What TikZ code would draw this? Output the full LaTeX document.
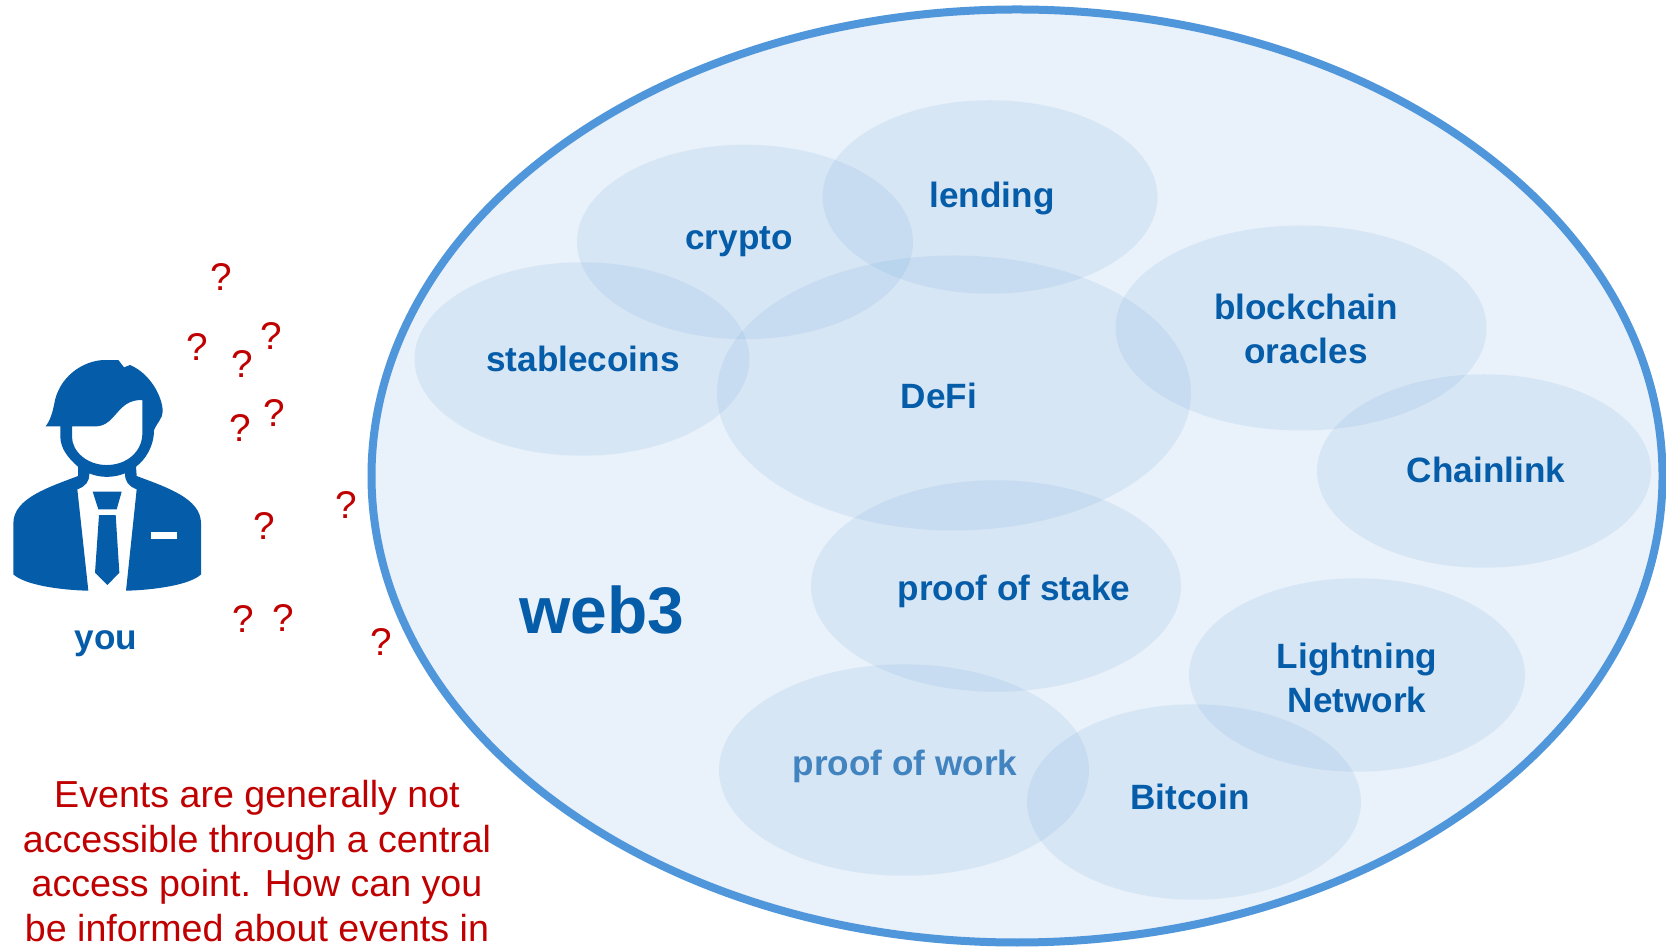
\documentclass[tikz,border=0pt]{standalone}
\usepackage{fontspec}
\setmainfont{Liberation Sans}
\usetikzlibrary{shapes.geometric}
\definecolor{webblue}{HTML}{5B9BD5}
\definecolor{webline}{HTML}{5096DB}
\definecolor{webfill}{HTML}{E9F1FA}
\definecolor{labelblue}{HTML}{055CA8}
\definecolor{darkred}{HTML}{C00000}
\tikzset{
	blob/.style={ellipse, inner sep=0, outer sep=0, fill=webblue, fill opacity=0.12},
	topic/.style={font=\fontsize{20}{25}\selectfont\bfseries, text=labelblue, align=center},
	quest/.style={font=\fontsize{22}{24}\selectfont, text=darkred}
}
\begin{document}
\begin{tikzpicture}
		\useasboundingbox (0,0) rectangle (33.32,18.94);
		% big ellipse
		\node (web) [ellipse, inner sep=0, outer sep=0, draw=webline, line width=0.16cm, fill=webfill, minimum width=25.82cm, minimum height=18.66cm] at (20.34,9.42) {};
		% proof of work sits under its own ellipse
		\node (powtext) [topic, text=labelblue!75!webfill] at (18.1,3.62) {proof of work};
		\node (crypto) [blob, minimum width=6.72cm, minimum height=3.89cm] at (14.9,14.1) {};
		\node (lending) [blob, minimum width=6.7cm, minimum height=3.87cm] at (19.8,15) {};
		\node (stable) [blob, minimum width=6.7cm, minimum height=3.87cm] at (11.64,11.76) {};
		\node (defi) [blob, minimum width=9.48cm, minimum height=5.5cm] at (19.08,11.08) {};
		\node (oracles) [blob, minimum width=7.42cm, minimum height=4.1cm] at (26.02,12.38) {};
		\node (chainlink) [blob, minimum width=6.68cm, minimum height=3.87cm] at (29.68,9.52) {};
		\node (pos) [blob, minimum width=7.4cm, minimum height=4.23cm] at (19.92,7.22) {};
		\node (lightning) [blob, minimum width=6.72cm, minimum height=3.87cm] at (27.14,5.44) {};
		\node (pow) [blob, minimum width=7.4cm, minimum height=4.23cm] at (18.08,3.54) {};
		\node (bitcoin) [blob, minimum width=6.68cm, minimum height=3.91cm] at (23.88,2.9) {};
		\node (cryptotext) [topic] at (14.78,14.1) {crypto};
		\node (lendingtext) [topic] at (19.84,14.96) {lending};
		\node (stabletext) [topic] at (11.66,11.76) {stablecoins};
		\node (defitext) [topic] at (18.78,11.02) {DeFi};
		\node (oraclestext) [topic] at (26.12,12.36) {blockchain\\oracles};
		\node (chainlinktext) [topic] at (29.72,9.54) {Chainlink};
		\node (postext) [topic] at (20.28,7.12) {proof of stake};
		\node (lightningtext) [topic] at (27.14,5.38) {Lightning\\Network};
		\node (bitcointext) [topic] at (23.8,3.01) {Bitcoin};
		\node (webtext) [topic, font=\fontsize{37.5}{40}\selectfont\bfseries] at (12.04,6.74) {web3};
		% person
		\begin{scope}[shift={(0,14.14)}, x=0.006667cm, y=-0.006667cm]
		\fill[labelblue, even odd rule] (137,559) .. controls (155,535) and (160,505) .. (165,480) .. controls (185,400) and (260,358) .. (320,360) -- (355,360) -- (372,382) -- (390,375) .. controls (450,400) and (488,470) .. (488,515) .. controls (488,535) and (470,550) .. (462,570) .. controls (462,620) and (435,660) .. (408,680) -- (410,708) .. controls (500,742) and (603,775) .. (603,850) -- (603,1003) .. controls (570,1035) and (460,1050) .. (378,1052) -- (410,748) .. controls (385,738) and (375,725) .. (375,700) .. controls (340,714) and (300,714) .. (268,700) .. controls (268,725) and (258,738) .. (232,748) -- (265,1052) .. controls (180,1050) and (75,1035) .. (40,1003) -- (40,850) .. controls (40,775) and (145,742) .. (234,708) -- (234,680) .. controls (205,655) and (181,625) .. (181,590) -- (181,559) -- cycle
			(216,559) -- (290,559) .. controls (350,555) and (350,478) .. (427,480) -- (427,580) .. controls (427,635) and (380,675) .. (320,675) .. controls (262,675) and (216,635) .. (216,590) -- cycle;
		\fill[labelblue] (278,755) -- (365,755) -- (350,808) -- (295,808) -- cycle;
		\fill[labelblue] (297,825) -- (347,825) -- (358,998) -- (322,1035) -- (285,998) -- cycle;
		\fill[white] (453,877) rectangle (532,896);
		\end{scope}
		\node (you) [topic] at (2.12,6.06) {you};
		% question marks
		\foreach \qx/\qy [count=\qi] in {4.42/13.4, 3.94/12.0, 5.42/12.22, 4.84/11.66, 5.48/10.68, 4.8/10.38, 6.92/8.84, 5.28/8.42, 4.86/6.56, 5.66/6.58, 7.62/6.1}
			\node (quest\qi) [quest] at (\qx,\qy) {?};
		% question text
		\node (note) [font=\fontsize{21.4}{25.5}\selectfont, text=darkred, align=center] at (5.14,1.72) {Events are generally not\\accessible through a central\\access point. How can you\\be informed about events in};
		\end{tikzpicture}
\end{document}
